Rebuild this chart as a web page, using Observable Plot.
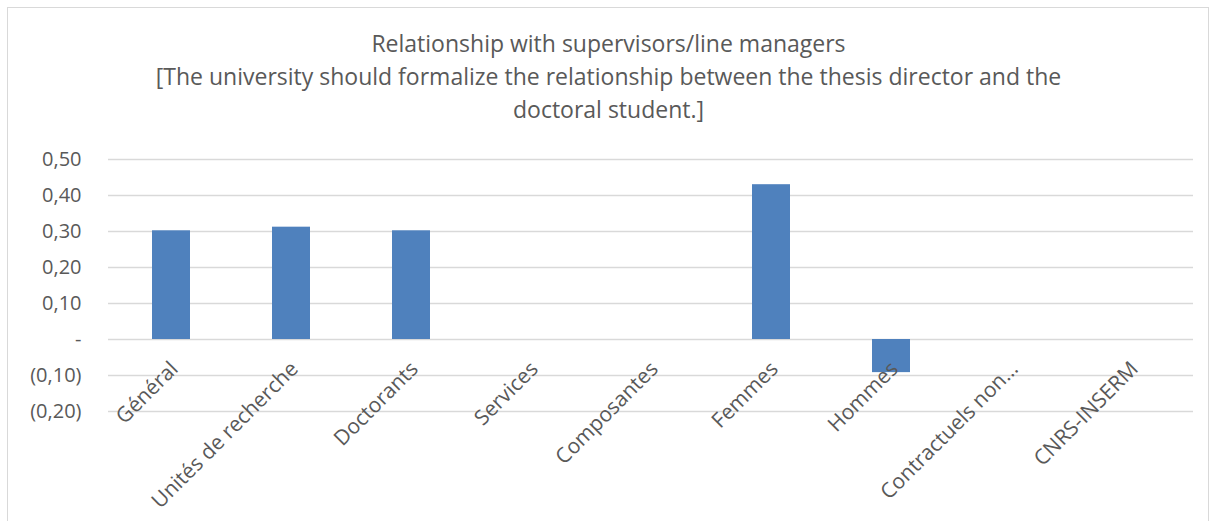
<!DOCTYPE html>
<html>
<head>
<meta charset="utf-8">
<script src="https://cdn.jsdelivr.net/npm/d3@7"></script>
<script src="https://cdn.jsdelivr.net/npm/@observablehq/plot@0.6"></script>
<style>
  html, body { margin: 0; padding: 0; background: #fff; }
  #wrap { position: relative; width: 1217px; height: 521px; overflow: hidden; font-family: "Open Sans", sans-serif; }
  #frame { position: absolute; left: 7px; top: 7px; width: 1202px; height: 530px; border: 1px solid #d9d9d9; box-sizing: border-box; }
  #title { position: absolute; left: 0; top: 27px; width: 1217px; text-align: center; font-size: 23px; line-height: 33px; color: #595959; }
  #chart { position: absolute; left: 0; top: 0; }
</style>
</head>
<body>
<div id="wrap">
  <div id="frame"></div>
  <div id="chart"></div>
  <div id="title">Relationship with supervisors/line managers<br>[The university should formalize the relationship between the thesis director and the<br>doctoral student.]</div>
</div>
<script>
const categories = ["Général", "Unités de recherche", "Doctorants", "Services", "Composantes", "Femmes", "Hommes", "Contractuels non…", "CNRS-INSERM"];
const values = [0.302, 0.312, 0.302, 0, 0, 0.43, -0.092, 0, 0];
const yTicks = [-0.2, -0.1, 0, 0.1, 0.2, 0.3, 0.4, 0.5];

const fmt = v => {
  if (Math.abs(v) < 1e-9) return "-";
  const s = Math.abs(v).toFixed(2).replace(".", ",");
  return v < 0 ? "(" + s + ")" : s;
};

const data = categories.map((c, i) => ({category: c, value: values[i]})).filter(d => d.value !== 0);

const chart = Plot.plot({
  width: 1217,
  height: 521,
  marginTop: 159,
  marginBottom: 110,
  marginLeft: 108,
  marginRight: 24,
  style: {fontFamily: "'Open Sans', sans-serif", color: "#595959", background: "transparent"},
  x: {domain: categories, padding: 0, axis: null},
  y: {domain: [-0.2, 0.5], axis: null},
  marks: [
    Plot.gridY(yTicks, {stroke: "#d9d9d9", strokeOpacity: 1, strokeWidth: 1.3}),
    Plot.axisY(yTicks, {tickSize: 0, tickPadding: 27, tickFormat: fmt, fontSize: 20, fill: "#595959", label: null}),
    Plot.barY(data, {x: "category", y: "value", fill: "#4f81bd", insetLeft: 41, insetRight: 41}),
    Plot.text(categories, {x: d => d, y: () => 0, text: d => d, rotate: -45, textAnchor: "end", dx: 3, dy: 26, fontSize: 21, fill: "#595959"})
  ]
});
document.getElementById("chart").appendChild(chart);
</script>
</body>
</html>
